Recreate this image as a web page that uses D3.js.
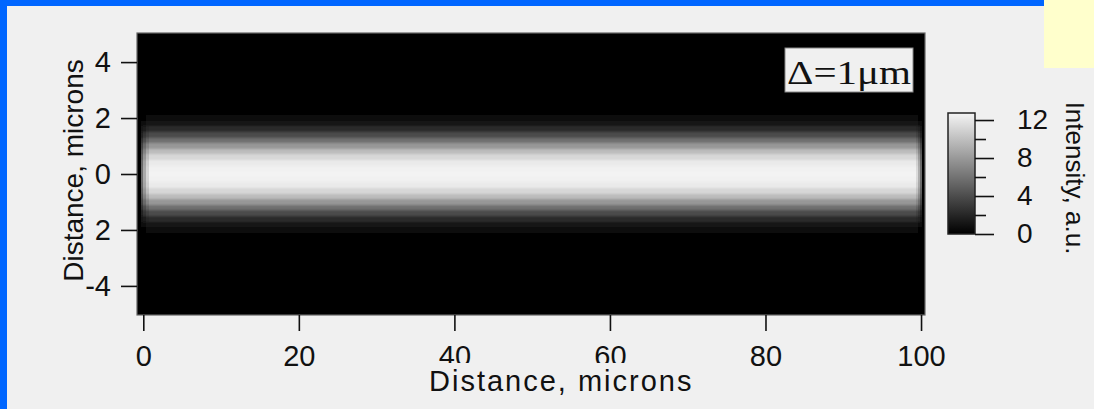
<!DOCTYPE html>
<html>
<head>
<meta charset="utf-8">
<script src="https://cdn.jsdelivr.net/npm/d3@7"></script>
<style>
  html, body { margin: 0; padding: 0; background: #f0f0f0; }
  svg { display: block; }
  text { font-family: "Liberation Sans", Arial, sans-serif; fill: #111; }
</style>
</head>
<body>
<svg id="chart" width="1094" height="409"></svg>
<script>
// Transverse intensity profile of the beam (a.u.) at each lateral position (microns)
const lateralPos = [-2.4, -2.2, -2.0, -1.8, -1.6, -1.4, -1.2, -1.0, -0.8, -0.6, -0.4, -0.2, 0,
                    0.2, 0.4, 0.6, 0.8, 1.0, 1.2, 1.4, 1.6, 1.8, 2.0, 2.2, 2.4];
const intensity  = [0, 0.1, 0.4, 1.1, 2.3, 3.9, 5.8, 7.9, 9.8, 11.2, 12.2, 12.6, 12.7,
                    12.6, 12.2, 11.2, 9.8, 7.9, 5.8, 3.9, 2.3, 1.1, 0.4, 0.1, 0];
const rowHeight = 0.2;

// Propagation segments along the guide (microns) and their relative brightness
const segStart = [-0.3, 0.0, 0.3, 0.7, 99.3, 99.6, 99.85];
const segEnd   = [ 0.0, 0.3, 0.7, 99.3, 99.6, 99.85, 100.1];
const segGain  = [0.45, 0.7, 0.88, 1.0, 0.9, 0.72, 0.45];

// Axis ticks
const xTicks = [0, 20, 40, 60, 80, 100];
const yTicks = [-4, -2, 0, 2, 4];
const cbMajor = [0, 4, 8, 12];
const cbMinor = [2, 6, 10];
const maxIntensity = 12.74;

const svg = d3.select("#chart");
const defs = svg.append("defs");
defs.append("filter").attr("id", "soft")
  .attr("x", 0).attr("y", -0.1).attr("width", 1).attr("height", 1.2)
  .append("feGaussianBlur").attr("stdDeviation", "0 1.2");

// Page decoration: blue frame strips and note box
svg.append("rect").attr("x", 0).attr("y", 0).attr("width", 1094).attr("height", 409).attr("fill", "#f0f0f0");
svg.append("rect").attr("x", 0).attr("y", 0).attr("width", 7).attr("height", 409).attr("fill", "#0066ff");
svg.append("rect").attr("x", 0).attr("y", 0).attr("width", 1044).attr("height", 6).attr("fill", "#0066ff");
svg.append("rect").attr("x", 1044).attr("y", 0).attr("width", 50).attr("height", 68).attr("fill", "#ffffcc");

const x = d3.scaleLinear().domain([-0.81, 100.51]).range([137, 925]);
const y = d3.scaleLinear().domain([-5.04, 5.04]).range([315, 33]);
const color = d3.scaleLinear().domain([0, maxIntensity]).range(["#000000", "#f4f4f4"]).clamp(true);

// Image plot background
svg.append("rect")
  .attr("x", x.range()[0]).attr("y", y.range()[1])
  .attr("width", x.range()[1] - x.range()[0])
  .attr("height", y.range()[0] - y.range()[1])
  .attr("fill", "#000");

// Intensity cells
const cells = [];
segStart.forEach((s, j) => {
  lateralPos.forEach((p, i) => {
    cells.push({ x0: s, x1: segEnd[j], y0: p - rowHeight / 2, y1: p + rowHeight / 2, v: intensity[i] * segGain[j] });
  });
});
svg.append("g").attr("filter", "url(#soft)")
  .selectAll("rect").data(cells).join("rect")
  .attr("shape-rendering", "crispEdges")
  .attr("x", d => Math.round(x(d.x0)))
  .attr("y", d => Math.round(y(d.y1)))
  .attr("width", d => Math.round(x(d.x1)) - Math.round(x(d.x0)))
  .attr("height", d => Math.round(y(d.y0)) - Math.round(y(d.y1)))
  .attr("fill", d => color(d.v));

// Frame
svg.append("rect")
  .attr("x", x.range()[0]).attr("y", y.range()[1])
  .attr("width", x.range()[1] - x.range()[0])
  .attr("height", y.range()[0] - y.range()[1])
  .attr("fill", "none").attr("stroke", "#666").attr("stroke-width", 1.2);

// Axes
const fontSize = 29;
const xAxis = svg.append("g").attr("transform", "translate(0,315)")
  .call(d3.axisBottom(x).tickValues(xTicks).tickSize(16).tickPadding(14).tickFormat(d3.format("d")));
const yAxis = svg.append("g").attr("transform", "translate(137,0)")
  .call(d3.axisLeft(y).tickValues(yTicks).tickSize(16).tickPadding(10).tickFormat(d3.format("d")));
[xAxis, yAxis].forEach(g => {
  g.select(".domain").remove();
  g.selectAll(".tick line").attr("stroke", "#111").attr("stroke-width", 1.6);
  g.selectAll(".tick text").attr("font-size", fontSize).attr("fill", "#111")
    .attr("font-family", "'Liberation Sans', Arial, sans-serif");
});
yAxis.selectAll(".tick text").text(d => d < 0 ? "-" + Math.abs(d) : d);

// Axis titles (each sits on its own opaque label box)
svg.append("rect").attr("x", 427).attr("y", 363).attr("width", 268).attr("height", 35).attr("fill", "#f0f0f0");
svg.append("text")
  .attr("x", 429).attr("y", 391)
  .attr("font-size", fontSize).attr("letter-spacing", 2)
  .text("Distance, microns");

svg.append("rect").attr("x", 58).attr("y", 54).attr("width", 36).attr("height", 232).attr("fill", "#f0f0f0");
svg.append("text")
  .attr("transform", "translate(83,170.5) rotate(-90)")
  .attr("text-anchor", "middle")
  .attr("font-size", 28)
  .text("Distance, microns");

// Annotation box
svg.append("rect").attr("x", 785).attr("y", 48).attr("width", 128).attr("height", 44)
  .attr("fill", "#f0f0f0").attr("stroke", "#888").attr("stroke-width", 1);
svg.append("text")
  .attr("x", 787).attr("y", 84)
  .attr("font-size", 33)
  .attr("textLength", 124).attr("lengthAdjust", "spacingAndGlyphs")
  .style("font-family", "'Liberation Serif', 'Times New Roman', serif")
  .text("\u0394=1\u03bcm");

// Colour bar
const cb = d3.scaleLinear().domain([0, maxIntensity]).range([234, 113]);
const grad = defs.append("linearGradient").attr("id", "cbgrad")
  .attr("x1", 0).attr("y1", 1).attr("x2", 0).attr("y2", 0);
d3.range(0, 1.0001, 0.1).forEach(t => {
  grad.append("stop").attr("offset", t).attr("stop-color", color(t * maxIntensity));
});
svg.append("rect").attr("x", 948).attr("y", cb.range()[1]).attr("width", 27)
  .attr("height", cb.range()[0] - cb.range()[1])
  .attr("fill", "url(#cbgrad)").attr("stroke", "#222").attr("stroke-width", 1.5);

const cbAxis = svg.append("g").attr("transform", "translate(975,0)")
  .call(d3.axisRight(cb).tickValues(cbMajor).tickSize(19).tickPadding(23).tickFormat(d3.format("d")));
const cbMinorAxis = svg.append("g").attr("transform", "translate(975,0)")
  .call(d3.axisRight(cb).tickValues(cbMinor).tickSize(11).tickFormat(""));
[cbAxis, cbMinorAxis].forEach(g => {
  g.select(".domain").remove();
  g.selectAll(".tick line").attr("stroke", "#111").attr("stroke-width", 1.6);
});
cbAxis.selectAll(".tick text").attr("font-size", 28).attr("fill", "#111")
  .attr("font-family", "'Liberation Sans', Arial, sans-serif");

svg.append("text")
  .attr("transform", "translate(1066,178) rotate(90)")
  .attr("text-anchor", "middle")
  .attr("font-size", 26)
  .text("Intensity, a.u.");
</script>
</body>
</html>
